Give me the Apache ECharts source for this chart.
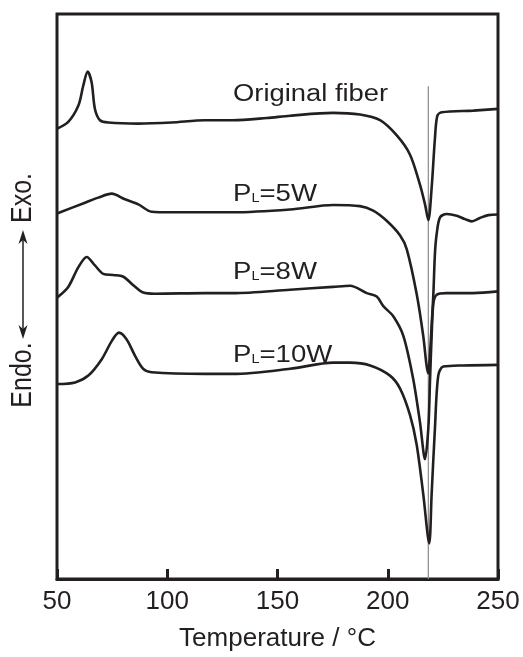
<!DOCTYPE html>
<html><head><meta charset="utf-8">
<script src="https://cdn.jsdelivr.net/npm/echarts@6/dist/echarts.min.js"></script>
<style>html,body{margin:0;padding:0;background:#fff}#c{width:523px;height:657px}</style>
</head><body><div id="c"></div>
<script>
// Temperature (°C) and heat-flow signal (arbitrary units)
const origT = [50,55.1,59.7,61.9,63.9,65.7,67.2,69.5,73.3,86.7,102.0,117.1,129.8,145.2,155.7,175.2,187.4,196.5,204.1,210.1,214.6,216.9,218.4,219.9,221.4,222.5,224.5,238.8,250];
const origY = [79.7,80.9,83.8,87.3,89.8,87.9,83.2,81.2,80.8,80.6,80.8,81.2,81.2,81.6,82.0,82.5,82.2,81.2,78.5,75.1,69.8,66.3,63.5,69.2,78.0,82.0,82.6,82.9,83.2];

const w5T = [50,62.7,68.7,74.8,80.8,86.9,92.9,102.0,117.1,129.8,155.7,175.3,187.4,193.4,199.5,205.6,208.6,213.1,216.1,217.6,218.3,218.8,219.9,220.7,221.4,222.2,223.7,226.7,231.3,235.0,238.1,241.8,245.6,250];
const w5Y = [64.7,66.6,67.5,68.2,67.2,66.3,65.0,64.9,64.9,64.9,65.4,66.2,66.0,65.2,63.4,60.8,58.4,50.5,43.0,37.8,36.4,37.8,44.8,50.6,57.6,61.1,64.0,64.6,64.3,63.7,63.3,63.9,64.4,64.5];

const w8T = [50,55.1,59.7,63.5,67.2,71.0,75.5,80.1,84.6,89.1,94.4,117.1,129.8,155.7,175.2,182.9,190.5,195.0,198.0,202.5,207.1,211.5,214.6,216.9,218.4,219.2,219.9,220.7,222.2,226.7,238.8,250];
const w8Y = [49.8,51.7,55.2,57.0,55.5,54.0,53.8,53.5,52.0,50.7,50.5,50.6,50.6,51.2,51.7,51.9,50.6,50.0,48.3,46.5,43.0,35.5,27.8,21.2,26.7,35.5,43.0,48.8,50.3,50.6,50.6,50.9];

const w10T = [50,58.2,64.2,70.3,74.8,78.1,81.6,85.4,89.1,92.9,117.1,129.8,155.7,175.3,182.9,192.0,201.0,205.6,210.1,213.1,216.1,218.8,219.9,221.4,222.9,225.2,234.3,250];
const w10Y = [34.5,34.8,36.0,38.9,42.1,43.6,42.4,39.5,37.2,36.6,36.3,36.3,37.2,38.3,38.3,37.8,36.0,33.7,29.0,23.8,15.0,6.3,15.0,26.7,36.0,37.6,37.8,37.9];

const refLineT = 218.4;           // melting-point guide line
const refLineY = [87.2, 0];

const xTicks = [50,100,150,200,250];
const labels = ['Original fiber','5W','8W','10W'];

const pair = (xs, ys) => xs.map((x,i)=>[x, ys[i]]);
const FONT = '"Liberation Sans", Arial, Helvetica, sans-serif';
const INK = '#231f20';

function curve(name, xs, ys){
  return {name, type:'line', data: pair(xs,ys), smooth:0.3, showSymbol:false, symbol:'none',
    lineStyle:{color:INK, width:2.6}, z:3, animation:false};
}

function plLabel(txt, x, y){
  return {type:'text', x, y, scaleX:1.2, z:10,
    style:{text:'{p|P}{s|L}{p|='+txt+'}', font:'23px '+FONT, fill:INK, verticalAlign:'middle', align:'left',
      rich:{p:{fontSize:23, fontFamily:FONT, fill:INK, verticalAlign:'bottom', lineHeight:26},
            s:{fontSize:12, fontFamily:FONT, fill:INK, verticalAlign:'bottom', lineHeight:26, padding:[0,0,1,0]}}}};
}

const chart = echarts.init(document.getElementById('c'), null, {renderer:'canvas'});
chart.setOption({
  animation:false,
  backgroundColor:'#fff',
  grid:{left:57, right:25, top:14, bottom:71, show:true, borderColor:INK, borderWidth:3, backgroundColor:'transparent'},
  xAxis:{type:'value', min:50, max:250, interval:50,
    axisLine:{show:true, lineStyle:{color:INK, width:3}},
    axisTick:{show:true, inside:true, length:10, lineStyle:{color:INK, width:3}},
    axisLabel:{show:true, color:INK, fontSize:26, fontFamily:FONT, margin:10, customValues: xTicks},
    splitLine:{show:false},
    name:'Temperature / \u00B0C', nameLocation:'middle', nameGap:47,
    nameTextStyle:{color:INK, fontSize:26, fontFamily:FONT}},
  yAxis:{type:'value', min:0, max:100, show:false},
  series:[
    {name:'guide', type:'line', data: refLineY.map(v=>[refLineT, v]), showSymbol:false, symbol:'none',
      lineStyle:{color:'#8a8a8a', width:1.2}, z:2, animation:false},
    curve('Original fiber', origT, origY),
    curve('PL=5W', w5T, w5Y),
    curve('PL=8W', w8T, w8Y),
    curve('PL=10W', w10T, w10Y)
  ],
  graphic:[
    {type:'text', x:233, y:95, scaleX:1.19, z:10,
      style:{text:labels[0], font:'23px '+FONT, fill:INK, verticalAlign:'middle', align:'left'}},
    plLabel(labels[1], 233, 193),
    plLabel(labels[2], 233, 271),
    plLabel(labels[3], 233, 354),
    {type:'text', x:23, y:198, rotation:Math.PI/2, scaleY:1.15, z:10,
      style:{text:'Exo.', font:'25px '+FONT, fill:INK, align:'center', verticalAlign:'middle'}},
    {type:'text', x:23, y:375, rotation:Math.PI/2, scaleY:1.15, z:10,
      style:{text:'Endo.', font:'25px '+FONT, fill:INK, align:'center', verticalAlign:'middle'}},
    {type:'line', shape:{x1:23, y1:236, x2:23, y2:333}, style:{stroke:INK, lineWidth:1.5}, z:10},
    {type:'polygon', shape:{points:[[23,230],[18.5,244],[23,240],[27.5,244]]}, style:{fill:INK}, z:10},
    {type:'polygon', shape:{points:[[23,339],[18.5,325],[23,329],[27.5,325]]}, style:{fill:INK}, z:10}
  ]
});
</script></body></html>
